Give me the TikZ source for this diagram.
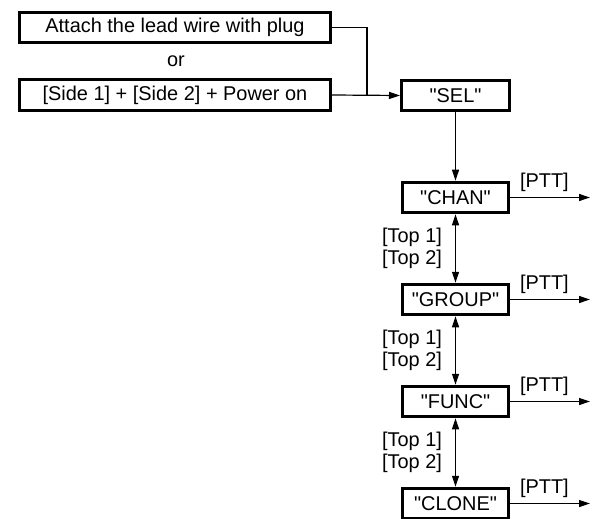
\documentclass[tikz,border=0pt]{standalone}
\usepackage{fontspec}
\setmainfont{Liberation Sans}[Ligatures=TeXOff]
\usetikzlibrary{positioning, calc, arrows.meta}

\tikzset{
  box/.style={draw, line width=3bp, minimum height=30.5bp, inner sep=0pt, font=\fontsize{20}{22}\selectfont},
  conn/.style={line width=1.2bp},
  arr/.style={conn, -{Triangle[length=11bp, width=7bp]}},
  darr/.style={conn, {Triangle[length=11bp, width=7bp]}-{Triangle[length=11bp, width=7bp]}},
  lbl/.style={font=\fontsize{20}{22}\selectfont, inner sep=0pt, align=left},
}

\begin{document}
\begin{tikzpicture}[x=1bp, y=-1bp, node distance=68.5bp]
        \useasboundingbox (0,0) rectangle (595,519);

        % start conditions
        \node[box, minimum width=311bp] (lead) at (175,27.5) {Attach the lead wire with plug};
        \node[lbl] (or) at (176,61) {or};
        \node[box, minimum width=311bp] (side) at (175,95) {[Side 1] + [Side 2] + Power on};

        % menu column
        \node[box, minimum width=108bp] (sel)   at (455.5,95.5) {"SEL"};
        \node[box, minimum width=106bp, below=of sel]   (chan)  {"CHAN"};
        \node[box, minimum width=106bp, below=of chan]  (group) {"GROUP"};
        \node[box, minimum width=106bp, below=of group] (func)  {"FUNC"};
        \node[box, minimum width=106bp, below=of func]  (clone) {"CLONE"};

        \coordinate (join) at (367,95);
        \draw[conn] (lead.east) -| (join);                          %upper in
        \draw[arr]  (side.east) -- (sel.west);                       %lower in
        \draw[arr]  (sel) -- (chan);

        \draw[darr] (chan)  -- (group) node[midway, lbl, left=13bp] {[Top 1]\\{}[Top 2]};
        \draw[darr] (group) -- (func)  node[midway, lbl, left=13bp] {[Top 1]\\{}[Top 2]};
        \draw[darr] (func)  -- (clone) node[midway, lbl, left=13bp] {[Top 1]\\{}[Top 2]};

        \foreach \n in {chan, group, func, clone} {
          \coordinate (\n out) at ($(\n.east) + (80,0)$);
          \draw[arr] (\n.east) -- (\n out) node[pos=.43, lbl, above=5.5bp] {[PTT]};   %exit
        }
\end{tikzpicture}
\end{document}
